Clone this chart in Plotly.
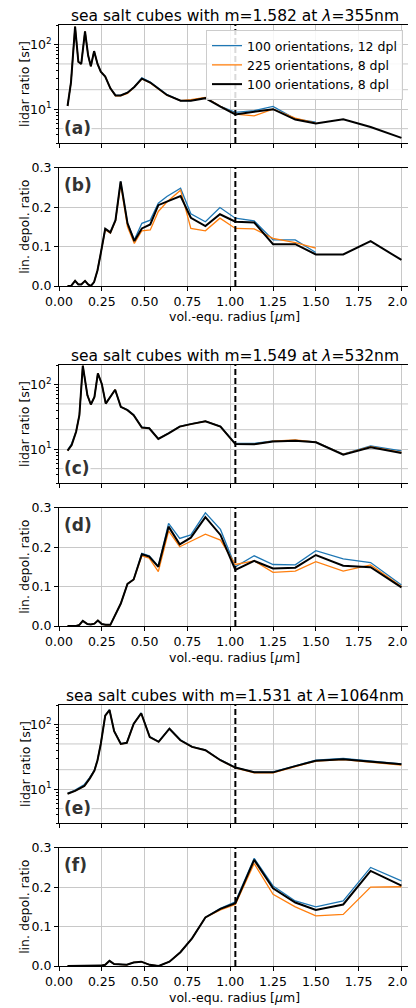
import plotly.graph_objects as go

# ---------------- data ----------------
X355 = [0.05, 0.07, 0.094, 0.113, 0.13, 0.152, 0.17, 0.186, 0.205, 0.225, 0.244, 0.27, 0.30, 0.33,
        0.36, 0.40, 0.44, 0.484, 0.533, 0.58, 0.63, 0.71, 0.77, 0.855, 0.94, 1.03, 1.14, 1.25,
        1.38, 1.50, 1.66, 1.82, 2.00]
X355_short = X355[:30]

lr355_k = [11.2, 26, 189, 54, 50, 160, 68, 46, 79, 50, 38, 32, 21, 16.3, 16.3, 18, 22, 29.6, 25.8,
           20.7, 16.6, 13.5, 13.5, 14.8, 11, 8.3, 9.1, 10, 6.9, 6.0, 7.0, 5.3, 3.6]
lr355_b = [11.2, 26, 189, 54, 50, 160, 68, 46, 79, 50, 38, 32, 21, 16.3, 16.3, 18, 22.3, 30.5, 26.3,
           21.0, 16.8, 13.6, 13.6, 15.0, 11.2, 8.9, 9.5, 11.0, 7.1, 6.3]
lr355_o = [11.2, 26, 189, 54, 50, 160, 68, 46, 79, 50, 38, 32, 21, 16.0, 16.0, 17.5, 22, 29.3, 25.5,
           20.3, 16.4, 13.6, 14.0, 15.2, 11.2, 8.4, 7.9, 10.0, 7.3, 6.1]

dp355_k = [0, 0, 0.013, 0.004, 0.004, 0.013, 0.004, 0.0, 0.01, 0.04, 0.083, 0.145, 0.136, 0.167,
           0.265, 0.159, 0.114, 0.146, 0.156, 0.205, 0.214, 0.228, 0.173, 0.152, 0.182, 0.163,
           0.161, 0.106, 0.106, 0.080, 0.080, 0.114, 0.066]
dp355_b = [0, 0, 0.013, 0.004, 0.004, 0.013, 0.004, 0.0, 0.01, 0.04, 0.083, 0.145, 0.136, 0.167,
           0.265, 0.160, 0.117, 0.159, 0.167, 0.210, 0.227, 0.248, 0.183, 0.163, 0.199, 0.172,
           0.165, 0.117, 0.117, 0.085]
dp355_o = [0, 0, 0.013, 0.004, 0.004, 0.013, 0.004, 0.0, 0.01, 0.04, 0.083, 0.143, 0.134, 0.165,
           0.258, 0.150, 0.108, 0.140, 0.142, 0.189, 0.213, 0.243, 0.146, 0.140, 0.172, 0.146,
           0.145, 0.121, 0.110, 0.096]

X532 = [0.05, 0.074, 0.10, 0.119, 0.139, 0.166, 0.186, 0.207, 0.227, 0.25, 0.273, 0.30, 0.328,
        0.361, 0.40, 0.436, 0.484, 0.527, 0.58, 0.64, 0.705, 0.77, 0.855, 0.943, 1.03, 1.14,
        1.25, 1.38, 1.50, 1.66, 1.82, 2.00]

lr532_k = [9.5, 11.6, 18.6, 33.5, 195, 68, 49, 64, 149, 102, 50.5, 66, 83, 45, 40, 33.5, 21.6, 21,
           14.4, 17.6, 22.3, 24.4, 27, 22.3, 12.0, 11.9, 13.1, 13.5, 12.8, 8.2, 10.7, 8.7]
lr532_b = [9.6, 12.2, 19.0, 33.5, 195, 68, 49, 64, 149, 102, 50.5, 66, 83, 45, 40.5, 34, 21.8, 21.2,
           14.5, 17.8, 22.5, 24.6, 27.2, 22.5, 12.3, 12.3, 13.4, 13.7, 13.0, 8.4, 11.2, 9.4]
lr532_o = [9.5, 11.6, 18.6, 33.5, 195, 68, 49, 64, 149, 102, 50.5, 66, 83, 45, 40, 33.5, 21.6, 21,
           14.4, 17.6, 22.3, 24.4, 27, 22.3, 12.0, 11.9, 13.3, 13.9, 12.9, 8.3, 10.9, 8.9]

dp532_k = [0, 0, 0, 0.003, 0.013, 0.005, 0.004, 0.006, 0.014, 0.005, 0.003, 0.003, 0.028, 0.057,
           0.107, 0.118, 0.182, 0.176, 0.150, 0.252, 0.207, 0.224, 0.276, 0.231, 0.142, 0.165,
           0.146, 0.148, 0.180, 0.153, 0.149, 0.098]
dp532_b = [0, 0, 0, 0.003, 0.013, 0.005, 0.004, 0.006, 0.014, 0.005, 0.003, 0.003, 0.028, 0.057,
           0.107, 0.118, 0.184, 0.178, 0.152, 0.260, 0.222, 0.231, 0.287, 0.245, 0.150, 0.178,
           0.156, 0.155, 0.191, 0.170, 0.161, 0.104]
dp532_o = [0, 0, 0, 0.003, 0.013, 0.005, 0.004, 0.006, 0.014, 0.005, 0.003, 0.003, 0.028, 0.057,
           0.107, 0.118, 0.178, 0.172, 0.138, 0.241, 0.201, 0.214, 0.233, 0.218, 0.156, 0.165,
           0.136, 0.139, 0.163, 0.139, 0.155, 0.100]

X1064 = [0.05, 0.094, 0.148, 0.18, 0.207, 0.225, 0.244, 0.27, 0.295, 0.322, 0.361, 0.396, 0.436,
         0.48, 0.53, 0.582, 0.645, 0.709, 0.777, 0.855, 0.943, 1.03, 1.14, 1.25, 1.38, 1.50,
         1.66, 1.82, 2.00]

lr1064_k = [8.5, 9.4, 11.2, 14.7, 19.4, 28, 50, 137, 167, 79, 50, 52, 102, 149, 64, 54, 86, 57, 45,
            40, 28, 21.6, 18.2, 18.2, 22.7, 27.5, 29, 26.5, 24.2]
lr1064_b = [8.6, 9.7, 11.8, 15.2, 19.8, 28.5, 50.5, 139, 169, 80, 50.5, 52.5, 103, 151, 65, 54.5, 87,
            58, 45.5, 40.5, 28.3, 21.8, 18.4, 18.5, 23.0, 28.0, 29.8, 27.0, 24.6]
lr1064_o = [8.5, 9.4, 11.2, 14.7, 19.4, 28, 50, 137, 167, 79, 50, 52, 102, 149, 64, 54, 86, 57, 45,
            40, 28, 21.4, 17.8, 17.8, 22.4, 27.2, 28.6, 26.0, 23.5]

dp1064_k = [0, 0, 0, 0, 0, 0, 0.001, 0.003, 0.013, 0.005, 0.003, 0.003, 0.009, 0.011, 0.003, 0.0,
            0.011, 0.035, 0.070, 0.123, 0.145, 0.159, 0.269, 0.197, 0.161, 0.142, 0.156, 0.241, 0.204]
dp1064_b = [0, 0, 0, 0, 0, 0, 0.001, 0.003, 0.013, 0.005, 0.003, 0.003, 0.009, 0.011, 0.003, 0.0,
            0.011, 0.035, 0.070, 0.123, 0.146, 0.163, 0.273, 0.203, 0.165, 0.150, 0.165, 0.250, 0.216]
dp1064_o = [0, 0, 0, 0, 0, 0, 0.001, 0.003, 0.013, 0.005, 0.003, 0.003, 0.009, 0.011, 0.003, 0.0,
            0.011, 0.035, 0.070, 0.123, 0.142, 0.156, 0.260, 0.182, 0.150, 0.127, 0.131, 0.200, 0.201]

series_names = ["100 orientations, 12 dpl", "225 orientations, 8 dpl", "100 orientations, 8 dpl"]
titles = ["sea salt cubes with m=1.582 at <i>λ</i>=355nm",
          "sea salt cubes with m=1.549 at <i>λ</i>=532nm",
          "sea salt cubes with m=1.531 at <i>λ</i>=1064nm"]
panel_labels = ["(a)", "(b)", "(c)", "(d)", "(e)", "(f)"]
x_ticks = [0, 0.25, 0.5, 0.75, 1.0, 1.25, 1.5, 1.75, 2.0]
lr_major = [10, 100]
lr_ticktext = ["10<sup>1</sup>", "10<sup>2</sup>"]
lr_grid_extra = [5, 20, 50]
lr_minor = [3, 4, 5, 6, 7, 8, 9, 20, 30, 40, 50, 60, 70, 80, 90, 200]
dp_ticks = [0.0, 0.1, 0.2, 0.3]
r_cut = 1.03

# ---------------- figure ----------------
# the page body has an 8px margin, so the figure is 8px smaller and all
# reference pixel positions are shifted by that offset
OFF = 8
W, H = 416 - OFF, 1008 - OFF
BLUE, ORANGE, BLACK = "#1f77b4", "#ff7f0e", "#000000"
GRID = "#c8c8c8"
FONT = "DejaVu Sans"


def px_x(p):
    return (p - OFF) / W


def px_y(p):
    return 1 - (p - OFF) / H


panels = [
    (X355_short, lr355_b, X355_short, lr355_o, X355, lr355_k, "lr"),
    (X355_short, dp355_b, X355_short, dp355_o, X355, dp355_k, "dp"),
    (X532, lr532_b, X532, lr532_o, X532, lr532_k, "lr"),
    (X532, dp532_b, X532, dp532_o, X532, dp532_k, "dp"),
    (X1064, lr1064_b, X1064, lr1064_o, X1064, lr1064_k, "lr"),
    (X1064, dp1064_b, X1064, dp1064_o, X1064, dp1064_k, "dp"),
]
# reference-pixel extents (top, bottom) of each plot area
tops_bottoms = [(25, 143), (167.7, 286), (365, 483), (507.7, 626), (705, 823), (847.7, 966)]
x0_px, x1_px = 59, 410

fig = go.Figure()
layout = dict(
    template="none",
    width=W, height=H, margin=dict(l=0, r=0, t=0, b=0, pad=0, autoexpand=False),
    paper_bgcolor="white", plot_bgcolor="white",
    font=dict(family=FONT, size=12, color="black"),
    showlegend=True,
    legend=dict(x=px_x(403), y=px_y(30), xanchor="right", yanchor="top",
                bgcolor="rgba(255,255,255,0.85)", bordercolor="#cccccc", borderwidth=1,
                font=dict(size=12.5, family=FONT), tracegroupgap=0,
                itemwidth=30),
)
annotations = []
shapes = []

for i, (xb, yb, xo, yo, xk, yk, kind) in enumerate(panels):
    n = i + 1
    xa = "x" if n == 1 else f"x{n}"
    ya = "y" if n == 1 else f"y{n}"
    for xs, ys, col, w, name in ((xb, yb, BLUE, 1.3, series_names[0]),
                                 (xo, yo, ORANGE, 1.3, series_names[1]),
                                 (xk, yk, BLACK, 2.0, series_names[2])):
        fig.add_trace(go.Scatter(x=xs, y=ys, mode="lines", name=name,
                                 line=dict(color=col, width=w),
                                 showlegend=(i == 0), xaxis=xa, yaxis=ya))
    top, bot = tops_bottoms[i]
    ydom = [px_y(bot), px_y(top)]
    xkey = "xaxis" if n == 1 else f"xaxis{n}"
    ykey = "yaxis" if n == 1 else f"yaxis{n}"
    layout[xkey] = dict(
        domain=[px_x(x0_px), px_x(x1_px)], anchor=ya, range=[0, 2.05], automargin=False,
        tickmode="array", tickvals=x_ticks, tickformat=".2f", showticklabels=(kind == "dp"),
        ticks="outside", ticklen=4, tickcolor="black", tickwidth=1, tickfont=dict(size=12.5),
        showgrid=True, gridcolor=GRID, gridwidth=1,
        showline=True, linecolor="black", linewidth=1, mirror=True, zeroline=False,
    )
    if kind == "lr":
        layout[ykey] = dict(
            domain=ydom, anchor=xa, type="log", range=[0.4771, 2.301], automargin=False,
            tickmode="array", tickvals=lr_major, ticktext=lr_ticktext,
            ticks="outside", ticklen=4, tickcolor="black", tickwidth=1, tickfont=dict(size=12.5),
            minor=dict(tickmode="array", tickvals=lr_minor, ticks="outside", ticklen=2,
                       tickcolor="black", showgrid=False),
            showgrid=True, gridcolor=GRID, gridwidth=1,
            showline=True, linecolor="black", linewidth=1, mirror=True, zeroline=False,
        )
        ylabel = "lidar ratio [sr]"
        for gv in lr_grid_extra:
            shapes.append(dict(type="line", xref=f"{xa} domain", yref=ya, x0=0, x1=1,
                               y0=gv, y1=gv, layer="below",
                               line=dict(color=GRID, width=1)))
        # label centre sits 103 px below the panel top
        ly = 1 - 103 / (bot - top)
    else:
        layout[ykey] = dict(
            domain=ydom, anchor=xa, range=[0, 0.3], automargin=False,
            tickmode="array", tickvals=dp_ticks, tickformat=".1f",
            ticks="outside", ticklen=4, tickcolor="black", tickwidth=1, tickfont=dict(size=12.5),
            showgrid=True, gridcolor=GRID, gridwidth=1,
            showline=True, linecolor="black", linewidth=1, mirror=True, zeroline=False,
        )
        ylabel = "lin. depol. ratio"
        annotations.append(dict(text="vol.-equ. radius [<i>μ</i>m]", xref="paper", yref="paper",
                                x=px_x((x0_px + x1_px) / 2), y=px_y(bot + 31),
                                xanchor="center", yanchor="middle", showarrow=False,
                                font=dict(size=12.5, family=FONT)))
        # label centre sits 17 px below the panel top
        ly = 1 - 17.3 / (bot - top)
    # y-axis title
    annotations.append(dict(text=ylabel, xref="paper", yref="paper", x=px_x(25),
                            y=px_y((top + bot) / 2), textangle=-90, xanchor="center",
                            yanchor="middle", showarrow=False, font=dict(size=12.5, family=FONT)))
    # panel label
    annotations.append(dict(text="<b>" + panel_labels[i] + "</b>", xref=f"{xa} domain",
                            yref=f"{ya} domain", x=0.012, y=ly, xanchor="left", yanchor="middle",
                            showarrow=False, bgcolor="white", borderpad=0,
                            font=dict(size=17, family=FONT, color="#333333")))
    # title
    if kind == "lr":
        annotations.append(dict(text=titles[i // 2], xref="paper", yref="paper",
                                x=px_x((x0_px + x1_px) / 2), y=px_y(top - 9),
                                xanchor="center", yanchor="middle", showarrow=False,
                                font=dict(size=15.5, family=FONT)))
    # vertical dashed line
    shapes.append(dict(type="line", xref=xa, yref=f"{ya} domain", x0=r_cut, x1=r_cut, y0=0, y1=1,
                       line=dict(color="black", width=2, dash="6px,3px")))

layout["annotations"] = annotations
layout["shapes"] = shapes
fig.update_layout(**layout)
fig.write_html("out.html")
